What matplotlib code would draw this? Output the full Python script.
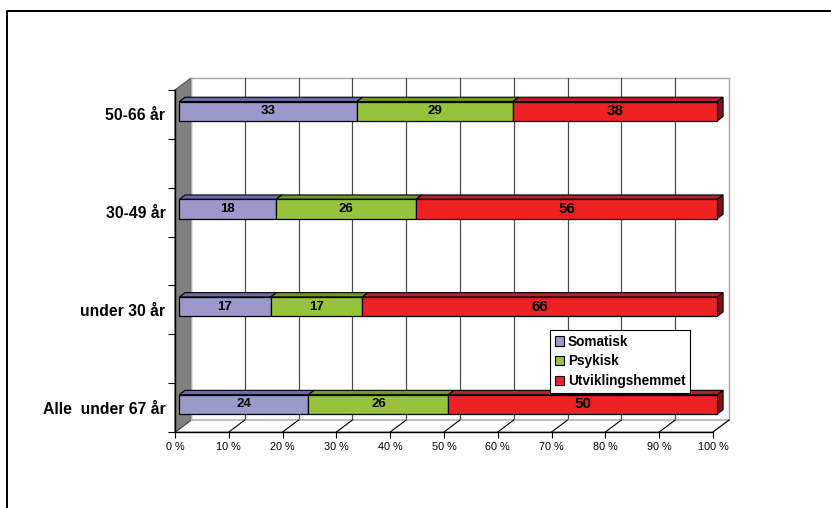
import matplotlib
matplotlib.use('Agg')
import matplotlib.pyplot as plt
import numpy as np
from matplotlib.patches import Polygon, Patch
from matplotlib.lines import Line2D
from matplotlib.transforms import IdentityTransform, offset_copy

plt.rcParams['font.family'] = ['Liberation Sans', 'DejaVu Sans']

# ---- data ----
categories = ['Alle  under 67 år', 'under 30 år', '30-49 år', '50-66 år']
series_names = ['Somatisk', 'Psykisk', 'Utviklingshemmet']
somatisk = [24, 17, 18, 33]
psykisk = [26, 17, 26, 29]
utviklingshemmet = [50, 66, 56, 38]
xticks = list(range(0, 101, 10))
xtick_labels = [f'{v} %' for v in xticks]

# ---- style ----
front_colors = ['#9999CC', '#97C23C', '#EE2222']
top_colors = ['#6A6AAE', '#6E9A24', '#B22424']
end_color = '#7A1616'
label_sizes = [9.5, 9.5, 11]

W, H = 831, 508
fig = plt.figure(figsize=(W / 100, H / 100), dpi=100)
ax = fig.add_axes([175 / W, (H - 432) / H, 538 / W, 342 / H])
ax.set_xlim(0, 100)
n_slots = 7
ax.set_ylim(-0.5, n_slots - 0.5)
ax.patch.set_visible(False)

# depth vector in display pixels (back plane offset)
DX, DY = 16.0, 12.0


def P(x, y, d):
    px, py = ax.transData.transform((x, y))
    return (px + DX * d, py + DY * d)


def poly(pts, fc, ec, lw=0.8, z=1):
    p = Polygon(pts, closed=True, facecolor=fc, edgecolor=ec, linewidth=lw,
                transform=IdentityTransform(), zorder=z, clip_on=False)
    ax.add_patch(p)
    return p


def seg(a, b, color, lw, z):
    ax.add_line(Line2D([a[0], b[0]], [a[1], b[1]], color=color, lw=lw,
                       transform=IdentityTransform(), zorder=z, clip_on=False))


ylo, yhi = -0.5, n_slots - 0.5
# back wall
poly([P(0, ylo, 1), P(100, ylo, 1), P(100, yhi, 1), P(0, yhi, 1)], 'white', '#A6A6A6', 1.0, z=1)
for xv in xticks[1:-1]:
    seg(P(xv, ylo, 1), P(xv, yhi, 1), '#4A4A4A', 0.9, 1.1)
# floor
poly([P(0, ylo, 0), P(100, ylo, 0), P(100, ylo, 1), P(0, ylo, 1)], 'white', '#A6A6A6', 1.0, z=1.2)
for xv in xticks:
    seg(P(xv, ylo, 0), P(xv, ylo, 1), 'black', 0.8, 1.3)
# left wall
poly([P(0, ylo, 0), P(0, yhi, 0), P(0, yhi, 1), P(0, ylo, 1)], '#808080', '#5A5A5A', 0.9, z=1.4)
seg(P(0, ylo, 1), P(0, yhi, 1), '#B0B0B0', 1.0, 1.45)

# bars
slots = [0, 2, 4, 6]
d0, d1 = 0.27, 0.63
bar_h = 0.395
bar_tf = offset_copy(ax.transData, fig=fig, x=DX * d0, y=DY * d0, units='dots')
series = [somatisk, psykisk, utviklingshemmet]
left = np.zeros(len(categories))
for si, vals in enumerate(series):
    vals = np.array(vals, dtype=float)
    bars = ax.barh(slots, vals, left=left, height=bar_h, color=front_colors[si],
                   edgecolor='black', linewidth=0.9, zorder=3, label=series_names[si])
    for b in bars:
        b.set_transform(bar_tf)
        b.set_clip_on(False)
    for ci, (s, v, l) in enumerate(zip(slots, vals, left)):
        yt = s + bar_h / 2
        poly([P(l, yt, d0), P(l + v, yt, d0), P(l + v, yt, d1), P(l, yt, d1)],
             top_colors[si], 'black', 0.8, z=2.9)
        if si == len(series) - 1:
            yb = s - bar_h / 2
            poly([P(l + v, yb, d0), P(l + v, yt, d0), P(l + v, yt, d1), P(l + v, yb, d1)],
                 end_color, 'black', 0.8, z=2.9)
        ax.text(l + v / 2, s, f'{int(v)}', transform=bar_tf, ha='center', va='center',
                fontsize=label_sizes[si], fontweight='bold', color='black', zorder=4)
    left = left + vals

# axes spines / ticks
for side in ['top', 'right']:
    ax.spines[side].set_visible(False)
ax.spines['left'].set_linewidth(1.0)
ax.spines['bottom'].set_linewidth(1.0)
ax.spines['left'].set_zorder(2)
ax.spines['bottom'].set_zorder(2)
ax.set_xticks(xticks)
ax.set_xticklabels(xtick_labels, fontsize=7.8)
ax.tick_params(axis='x', length=4, width=0.8, pad=3)
ax.set_yticks(slots)
ax.set_yticklabels(categories, fontsize=11.3, fontweight='bold')
ax.set_yticks(np.arange(-0.5, n_slots, 1.0), minor=True)
ax.tick_params(axis='y', which='major', length=0, pad=7)
ax.tick_params(axis='y', which='minor', length=5, width=0.8)

# legend
handles = [Patch(facecolor=front_colors[i], edgecolor='black', linewidth=0.8, label=series_names[i])
           for i in range(3)]
leg = ax.legend(handles=handles, loc='upper left', bbox_to_anchor=(550 / W, 1 - 330 / H),
                bbox_transform=fig.transFigure, frameon=True, fancybox=False, shadow=False,
                prop={'size': 9.8, 'weight': 'bold'}, handlelength=0.65, handleheight=0.65,
                handletextpad=0.3, labelspacing=0.42, borderpad=0.35, borderaxespad=0,
                framealpha=1)
leg.get_frame().set_edgecolor('black')
leg.get_frame().set_linewidth(0.8)
leg.set_zorder(10)

# outer frame of the chart area
fig.add_artist(Line2D([7 / W, 7 / W, 1.0], [0.0, 1 - 11 / H, 1 - 11 / H], color='black',
                      lw=1.4, transform=fig.transFigure, zorder=20))

fig.savefig('out.png', dpi=100)
